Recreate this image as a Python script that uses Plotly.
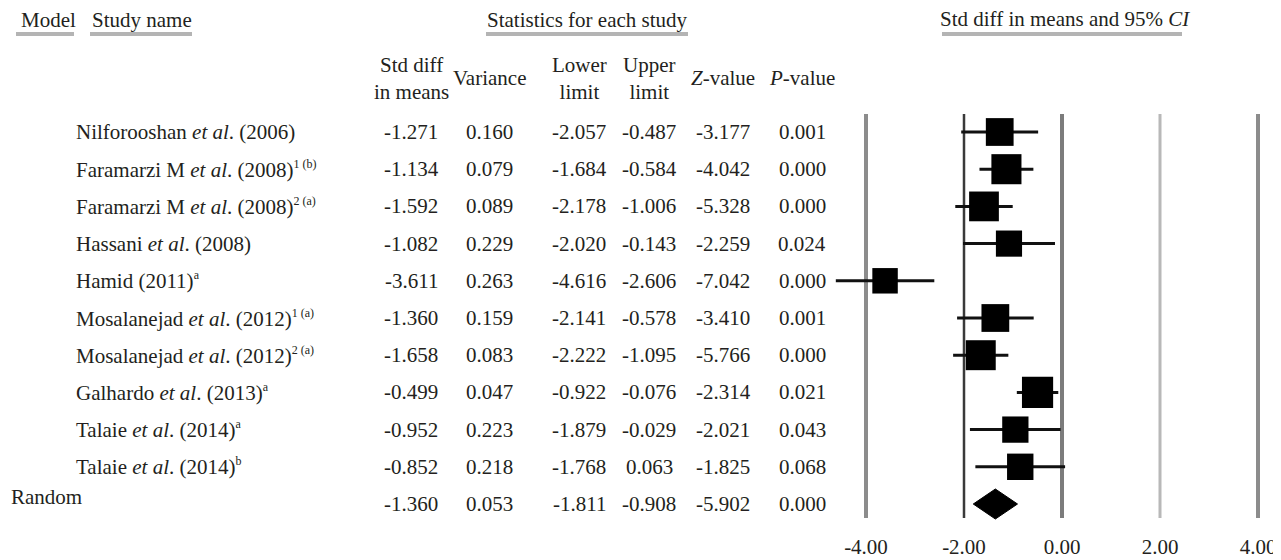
import plotly.graph_objects as go
import numpy as np

# ---------------- data ----------------
studies = [
    "Nilforooshan <i>et al</i>. (2006)",
    "Faramarzi M <i>et al</i>. (2008)<sup>1 (b)</sup>",
    "Faramarzi M <i>et al</i>. (2008)<sup>2 (a)</sup>",
    "Hassani <i>et al</i>. (2008)",
    "Hamid (2011)<sup>a</sup>",
    "Mosalanejad <i>et al</i>. (2012)<sup>1 (a)</sup>",
    "Mosalanejad <i>et al</i>. (2012)<sup>2 (a)</sup>",
    "Galhardo <i>et al</i>. (2013)<sup>a</sup>",
    "Talaie <i>et al</i>. (2014)<sup>a</sup>",
    "Talaie <i>et al</i>. (2014)<sup>b</sup>",
]
std_diff = [-1.271, -1.134, -1.592, -1.082, -3.611, -1.360, -1.658, -0.499, -0.952, -0.852]
variance = [0.160, 0.079, 0.089, 0.229, 0.263, 0.159, 0.083, 0.047, 0.223, 0.218]
lower = [-2.057, -1.684, -2.178, -2.020, -4.616, -2.141, -2.222, -0.922, -1.879, -1.768]
upper = [-0.487, -0.584, -1.006, -0.143, -2.606, -0.578, -1.095, -0.076, -0.029, 0.063]
z_value = [-3.177, -4.042, -5.328, -2.259, -7.042, -3.410, -5.766, -2.314, -2.021, -1.825]
p_value = [0.001, 0.000, 0.000, 0.024, 0.000, 0.001, 0.000, 0.021, 0.043, 0.068]

random_label = "Random"
random_est = -1.360
random_var = 0.053
random_lower = -1.811
random_upper = -0.908
random_z = -5.902
random_p = 0.000

axis_ticks = [-4, -2, 0, 2, 4]
axis_ticktext = ["-4.00", "-2.00", "0.00", "2.00", "4.00"]

col_headers = ["Std diff<br>in means", "Variance", "Lower<br>limit", "Upper<br>limit",
               "<i>Z</i>-value", "<i>P</i>-value"]
group_headers = ["Model", "Study name", "Statistics for each study",
                 "Std diff in means and 95% <i>CI</i>"]

# ---------------- layout helpers ----------------
OFF = 8                      # page body margin in the browser
W, H = 1281 - OFF, 560 - OFF
MB = 28
PH = H - MB                  # plot-area height (figure pixels)
ROW0, ROWH = 132.0, 37.2     # screen pixels
X0PX, XUNIT = 1062.0, 49.0   # screen pixels

def px_x(px):                # screen px -> paper x
    return (px - OFF) / W

def px_y(py):                # screen px -> paper y
    return 1 - (py - OFF) / PH

def row_of(py):              # screen px -> data row
    return (py - ROW0) / ROWH

FONT = "Liberation Serif, Times New Roman, serif"
TXT = "#231f20"
FS = 21

n = len(studies)
rows = list(range(n))
rand_row = n

# random-effects weights (DerSimonian-Laird) for square sizes
v = np.array(variance)
y = np.array(std_diff)
w = 1 / v
ybar = np.sum(w * y) / np.sum(w)
Q = np.sum(w * (y - ybar) ** 2)
C = np.sum(w) - np.sum(w ** 2) / np.sum(w)
tau2 = max(0.0, (Q - (n - 1)) / C)
sizes = list(20.5 * np.sqrt(1 / (v + tau2)))

fig = go.Figure()

# vertical reference lines
vline_styles = {-4: ("#8c8c8c", 4), -2: ("#3a3a3a", 2.5), 0: ("#7c7c7c", 4),
                2: ("#b8b8b8", 3), 4: ("#8c8c8c", 4)}
y_top = row_of(114)
y_bot = row_of(518)
for t in axis_ticks:
    c, lw = vline_styles[t]
    fig.add_trace(go.Scatter(x=[t, t], y=[y_top, y_bot], mode="lines",
                             line=dict(color=c, width=lw), hoverinfo="skip",
                             showlegend=False))

# CI lines
for i in rows:
    fig.add_trace(go.Scatter(x=[lower[i], upper[i]], y=[i, i], mode="lines",
                             line=dict(color="#111111", width=3),
                             hoverinfo="skip", showlegend=False))

# squares
fig.add_trace(go.Scatter(x=std_diff, y=rows, mode="markers",
                         marker=dict(symbol="square", size=sizes, color="black",
                                     opacity=1, line=dict(width=0)),
                         showlegend=False))

# diamond for pooled estimate
dh = 15.0 / ROWH
fig.add_trace(go.Scatter(x=[random_lower, random_est, random_upper, random_est, random_lower],
                         y=[rand_row, rand_row - dh, rand_row, rand_row + dh, rand_row],
                         mode="lines", fill="toself", fillcolor="black",
                         line=dict(color="black", width=1), showlegend=False))

ann = []
# group headers
gh_pos = [(48, 20), (142, 20), (587, 20), (1065, 19)]
for txt, (cx, cy) in zip(group_headers, gh_pos):
    ann.append(dict(text=txt, x=px_x(cx), y=px_y(cy), xref="paper", yref="paper",
                    showarrow=False, xanchor="center", yanchor="middle",
                    font=dict(family=FONT, size=FS, color=TXT)))

# underlines
ul = [(16, 74), (90, 192), (486, 688), (942, 1182)]
shapes = []
for a, b in ul:
    shapes.append(dict(type="line", xref="paper", yref="paper",
                       x0=px_x(a), x1=px_x(b), y0=px_y(34), y1=px_y(34),
                       line=dict(color="#b4b4b4", width=4)))

# column headers
col_cx = [411, 489, 579, 649, 723, 802]
for txt, cx in zip(col_headers, col_cx):
    ann.append(dict(text=txt, x=px_x(cx), y=px_y(78), xref="paper", yref="paper",
                    showarrow=False, xanchor="center", yanchor="middle",
                    font=dict(family=FONT, size=FS, color=TXT)))

def fmt(val):
    return f"{val:.3f}"

def sup_small(s):
    return s.replace("<sup>", "<sup><span style='font-size:12px'>").replace("</sup>", "</span></sup>")

for i in rows:
    ann.append(dict(text=sup_small(studies[i]), x=px_x(74), y=i, xref="paper", yref="y",
                    showarrow=False, xanchor="left", yanchor="middle",
                    font=dict(family=FONT, size=FS, color=TXT)))
    vals = [std_diff[i], variance[i], lower[i], upper[i], z_value[i], p_value[i]]
    for cx, val in zip(col_cx, vals):
        ann.append(dict(text=fmt(val), x=px_x(cx), y=i, xref="paper", yref="y",
                        showarrow=False, xanchor="center", yanchor="middle",
                        font=dict(family=FONT, size=FS, color=TXT)))

ann.append(dict(text=random_label, x=px_x(9), y=row_of(497), xref="paper", yref="y",
                showarrow=False, xanchor="left", yanchor="middle",
                font=dict(family=FONT, size=FS, color=TXT)))
rvals = [random_est, random_var, random_lower, random_upper, random_z, random_p]
for cx, val in zip(col_cx, rvals):
    ann.append(dict(text=fmt(val), x=px_x(cx), y=rand_row, xref="paper", yref="y",
                    showarrow=False, xanchor="center", yanchor="middle",
                    font=dict(family=FONT, size=FS, color=TXT)))

xr0 = (OFF - X0PX) / XUNIT
xr1 = (OFF + W - X0PX) / XUNIT
yr_top = row_of(OFF)
yr_bot = row_of(OFF + PH)

fig.update_layout(
    width=W, height=H,
    margin=dict(l=0, r=0, t=0, b=MB),
    paper_bgcolor="white", plot_bgcolor="white",
    xaxis=dict(range=[xr0, xr1], showgrid=False, zeroline=False, showline=False,
               tickmode="array", tickvals=axis_ticks, ticktext=axis_ticktext,
               ticks="", tickfont=dict(family=FONT, size=FS, color=TXT), fixedrange=True),
    yaxis=dict(range=[yr_bot, yr_top], showgrid=False, zeroline=False, showline=False,
               showticklabels=False, fixedrange=True),
    annotations=ann, shapes=shapes, showlegend=False,
)

fig.write_html("out.html")
